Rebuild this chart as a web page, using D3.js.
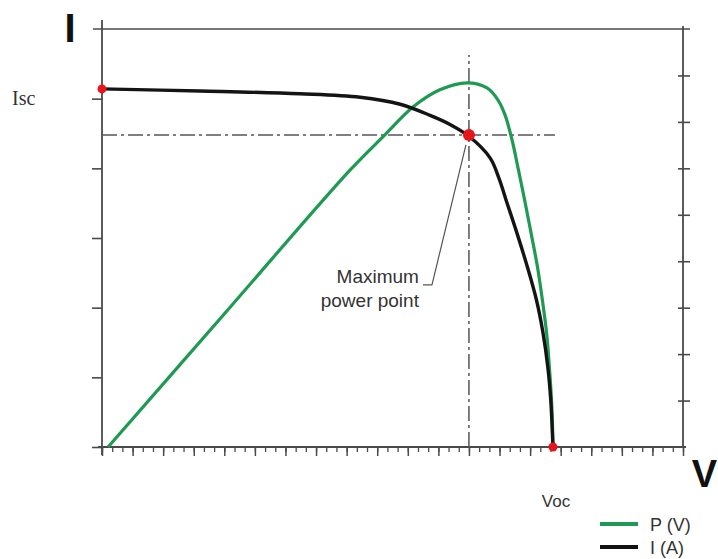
<!DOCTYPE html>
<html>
<head>
<meta charset="utf-8">
<script src="https://cdn.jsdelivr.net/npm/d3@7"></script>
<style>
  html, body { margin: 0; padding: 0; background: #fff; }
  svg { display: block; }
  text { font-family: "Liberation Sans", Arial, sans-serif; }
</style>
</head>
<body>
<svg id="chart" width="718" height="559"></svg>
<script>
// ---- data ----
// I-V curve: voltage (major-tick units) and current (left-axis units)
const ivVoltage = [0, 3.2, 6.47, 8.44, 9.75, 10.73, 11.38, 12.0, 12.69, 12.98, 13.21, 13.57, 13.914, 14.208, 14.421, 14.578, 14.676, 14.728, 14.748];
const ivCurrent = [5.14, 5.11, 5.07, 5.02, 4.92, 4.76, 4.63, 4.46, 4.15, 3.86, 3.55, 3.07, 2.58, 2.11, 1.64, 1.15, 0.67, 0.20, 0];
// P-V curve: voltage and power (right-axis units)
const pvVoltage = [0.2, 4.19, 8.11, 9.25, 10.17, 11.05, 11.94, 12.59, 12.95, 13.18, 13.41, 13.62, 13.82, 14.03, 14.24, 14.40, 14.54, 14.63, 14.70, 14.74, 14.748];
const pvPower   = [0, 3.01, 5.96, 6.72, 7.32, 7.69, 7.84, 7.73, 7.47, 7.15, 6.61, 5.96, 5.32, 4.61, 3.88, 3.17, 2.45, 1.72, 1.01, 0.30, 0];
// special points
const iscPoint = { v: 0, i: 5.14 };
const vocPoint = { v: 14.748, i: 0 };
const mppPoint = { v: 12.0, i: 4.48 };
// axis ticks
const leftTicks = [0, 1, 2, 3, 4, 5];
const rightTicks = [1, 2, 3, 4, 5, 6, 7, 8];
const xMajorTicks = d3.range(0, 20, 1);
const xMinorTicks = d3.range(0, 57.5, 1).map(k => k / 3);
// texts
const axisLabelI = "I";
const axisLabelV = "V";
const iscLabel = "Isc";
const vocLabel = "Voc";
const mppLabel = ["Maximum", "power point"];
const legendLabels = ["P (V)", "I (A)"];

// ---- scales ----
const svg = d3.select("#chart");
const x = d3.scaleLinear().domain([0, 19]).range([102, 683]);
const yI = d3.scaleLinear().domain([0, 6]).range([447, 29]);
const yP = d3.scaleLinear().domain([0, 9]).range([447, 29]);

const axisColor = "#4a4a4a";
const green = "#1f9a52";
const red = "#e8141b";

// ---- frame ----
const [x0, x1] = x.range();
const [yb, yt] = yI.range();
// top line
svg.append("line").attr("x1", x0 - 9).attr("x2", x1 + 7).attr("y1", yt).attr("y2", yt)
  .attr("stroke", axisColor).attr("stroke-width", 1.6);

// left axis
const gL = svg.append("g").attr("transform", `translate(${x0},0)`)
  .call(d3.axisLeft(yI).tickValues(leftTicks).tickSize(10).tickFormat(""));
gL.select(".domain").remove();
gL.selectAll(".tick line").attr("stroke", axisColor).attr("stroke-width", 1.6);
svg.append("line").attr("x1", x0).attr("x2", x0).attr("y1", yt - 9).attr("y2", yb + 8)
  .attr("stroke", axisColor).attr("stroke-width", 1.8);

// right axis (ticks crossing)
const gR = svg.append("g").attr("transform", `translate(${x1 - 5},0)`)
  .call(d3.axisRight(yP).tickValues(rightTicks).tickSize(12).tickFormat(""));
gR.select(".domain").remove();
gR.selectAll(".tick line").attr("stroke", axisColor).attr("stroke-width", 1.6);
svg.append("line").attr("x1", x1).attr("x2", x1).attr("y1", yt - 3).attr("y2", yb)
  .attr("stroke", axisColor).attr("stroke-width", 1.8);

// bottom axis
const gBmin = svg.append("g").attr("transform", `translate(0,${yb})`)
  .call(d3.axisBottom(x).tickValues(xMinorTicks).tickSize(5).tickFormat(""));
gBmin.select(".domain").remove();
gBmin.selectAll(".tick line").attr("stroke", axisColor).attr("stroke-width", 1.3);
const gBmaj = svg.append("g").attr("transform", `translate(0,${yb})`)
  .call(d3.axisBottom(x).tickValues(xMajorTicks).tickSize(9).tickFormat(""));
gBmaj.select(".domain").remove();
gBmaj.selectAll(".tick line").attr("stroke", axisColor).attr("stroke-width", 1.5);
svg.append("line").attr("x1", x0 - 4).attr("x2", x1 + 3).attr("y1", yb).attr("y2", yb)
  .attr("stroke", axisColor).attr("stroke-width", 1.8);

// ---- dash-dot guides through MPP ----
const dash = "15,4,3,4";
svg.append("line")
  .attr("x1", x(0)).attr("x2", x(mppPoint.v) + 86)
  .attr("y1", yI(mppPoint.i)).attr("y2", yI(mppPoint.i))
  .attr("stroke", "#555").attr("stroke-width", 1.5).attr("stroke-dasharray", dash);
svg.append("line")
  .attr("x1", x(mppPoint.v)).attr("x2", x(mppPoint.v))
  .attr("y1", yb).attr("y2", yI(mppPoint.i) - 80)
  .attr("stroke", "#555").attr("stroke-width", 1.5).attr("stroke-dasharray", dash);

// ---- curves ----
const pvData = pvVoltage.map((v, k) => ({ v, p: pvPower[k] }));
const ivData = ivVoltage.map((v, k) => ({ v, i: ivCurrent[k] }));

svg.append("path").datum(pvData)
  .attr("fill", "none").attr("stroke", green).attr("stroke-width", 3.2)
  .attr("stroke-linejoin", "round")
  .attr("d", d3.line().x(d => x(d.v)).y(d => yP(d.p)).curve(d3.curveCatmullRom.alpha(0.5)));

svg.append("path").datum(ivData)
  .attr("fill", "none").attr("stroke", "#141414").attr("stroke-width", 3.4)
  .attr("stroke-linejoin", "round")
  .attr("d", d3.line().x(d => x(d.v)).y(d => yI(d.i)).curve(d3.curveCatmullRom.alpha(0.5)));

// ---- leader line for MPP annotation ----
const mx = x(mppPoint.v), my = yI(mppPoint.i);
svg.append("polyline")
  .attr("points", [[mx - 46, my + 150], [mx - 37, my + 150], [mx - 3, my + 10]].map(p => p.join(",")).join(" "))
  .attr("fill", "none").attr("stroke", "#555").attr("stroke-width", 1.2);

// ---- points ----
svg.append("circle").attr("cx", x(mppPoint.v)).attr("cy", yI(mppPoint.i)).attr("r", 6).attr("fill", red);
svg.append("circle").attr("cx", x(iscPoint.v)).attr("cy", yI(iscPoint.i)).attr("r", 4.5).attr("fill", red);
svg.append("circle").attr("cx", x(vocPoint.v)).attr("cy", yI(vocPoint.i)).attr("r", 4.5).attr("fill", red);

// ---- texts ----
svg.append("text").attr("x", 70).attr("y", 42).attr("text-anchor", "middle")
  .attr("font-size", 40).attr("font-weight", "bold").attr("fill", "#111").text(axisLabelI);
svg.append("text").attr("x", 717).attr("y", 487).attr("text-anchor", "end")
  .attr("font-size", 38).attr("font-weight", "bold").attr("fill", "#111").text(axisLabelV);

svg.append("text").attr("x", 12).attr("y", yI(5) + 6)
  .style("font-family", "'Liberation Serif', 'Times New Roman', serif")
  .attr("font-size", 20).attr("fill", "#333").text(iscLabel);

svg.append("text").attr("x", x(vocPoint.v) + 3).attr("y", 507).attr("text-anchor", "middle")
  .attr("font-size", 17).attr("fill", "#333").text(vocLabel);

mppLabel.forEach((t, k) => {
  svg.append("text").attr("x", mx - 50).attr("y", my + 148 + k * 24).attr("text-anchor", "end")
    .attr("font-size", 19).attr("fill", "#333").text(t);
});

// ---- legend ----
const legendColors = [green, "#111"];
legendLabels.forEach((t, k) => {
  const ly = 524 + k * 23;
  svg.append("line").attr("x1", 600).attr("x2", 638).attr("y1", ly).attr("y2", ly)
    .attr("stroke", legendColors[k]).attr("stroke-width", 4);
  svg.append("text").attr("x", 650).attr("y", ly + 7)
    .attr("font-size", 18).attr("fill", "#333").text(t);
});
</script>
</body>
</html>
